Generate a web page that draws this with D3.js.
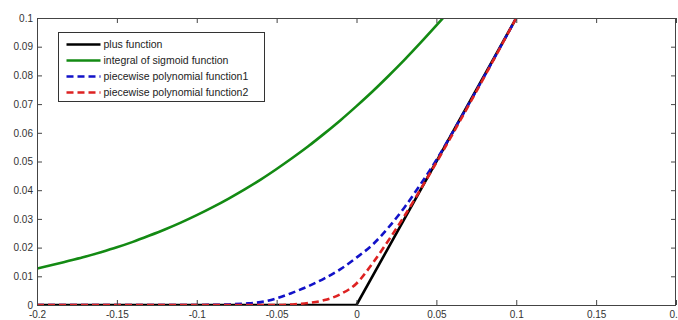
<!DOCTYPE html>
<html>
<head>
<meta charset="utf-8">
<script src="https://cdn.jsdelivr.net/npm/d3@7"></script>
<style>
  body { margin: 0; background: #fff; }
  svg { display: block; font-family: "Liberation Sans", Arial, sans-serif; }
</style>
</head>
<body>
<div id="chart"></div>
<script>
// values
const xTicks = [-0.2, -0.15, -0.1, -0.05, 0, 0.05, 0.1, 0.15, 0.2];
const yTicks = [0, 0.01, 0.02, 0.03, 0.04, 0.05, 0.06, 0.07, 0.08, 0.09, 0.1];

const plusX = [-0.2, 0, 0.1, 0.2];
const plusY = [0, 0, 0.1, 0.2];

const sigX = [-0.2, -0.19, -0.18, -0.17, -0.16, -0.15, -0.14, -0.13, -0.12, -0.11, -0.1, -0.09, -0.08, -0.07, -0.06, -0.05, -0.04, -0.03, -0.02, -0.01, 0, 0.01, 0.02, 0.03, 0.04, 0.05, 0.055];
const sigY = [0.0127, 0.014, 0.0154, 0.0168, 0.0184, 0.0201, 0.022, 0.0241, 0.0263, 0.0287, 0.0313, 0.0341, 0.0371, 0.0403, 0.0437, 0.0474, 0.0513, 0.0554, 0.0598, 0.0644, 0.0693, 0.0744, 0.0798, 0.0854, 0.0913, 0.0974, 0.1005];

const poly1X = [-0.2, -0.1, -0.08, -0.07, -0.06, -0.05, -0.04, -0.03, -0.02, -0.01, 0, 0.01, 0.02, 0.03, 0.04, 0.05, 0.06, 0.1];
const poly1Y = [0, 0, 0.0002, 0.0005, 0.001, 0.0023, 0.0043, 0.0066, 0.0093, 0.0125, 0.0165, 0.021, 0.027, 0.034, 0.042, 0.0505, 0.06, 0.1];

const poly2X = [-0.2, -0.05, -0.04, -0.03, -0.02, -0.01, 0, 0.01, 0.02, 0.03, 0.04, 0.1];
const poly2Y = [0, 0, 0.0002, 0.0007, 0.0017, 0.0038, 0.0075, 0.0145, 0.0225, 0.031, 0.0402, 0.1];

const names = ["plus function", "integral of sigmoid function", "piecewise polynomial function1", "piecewise polynomial function2"];
const colors = ["#000000", "#138a13", "#1212c8", "#dd2222"];
const dashed = [false, false, true, true];

const W = 678, H = 320;
const m = {left: 37, right: 2, top: 18, bottom: 15};

const svg = d3.select('#chart').append('svg').attr('width', W).attr('height', H);

const x = d3.scaleLinear().domain([-0.2, 0.2]).range([m.left, W - m.right]);
const y = d3.scaleLinear().domain([0, 0.1]).range([H - m.bottom, m.top]);

const fmt = d => String(+d.toFixed(2));

svg.append('clipPath').attr('id', 'clip')
  .append('rect')
  .attr('x', m.left).attr('y', m.top)
  .attr('width', W - m.left - m.right).attr('height', H - m.top - m.bottom);

// curves
const series = [[plusX, plusY], [sigX, sigY], [poly1X, poly1Y], [poly2X, poly2Y]];
const line = d3.line().x(d => x(d[0])).y(d => y(d[1])).curve(d3.curveMonotoneX);
const g = svg.append('g').attr('clip-path', 'url(#clip)');
series.forEach((s, i) => {
  const pts = s[0].map((v, k) => [v, s[1][k]]);
  g.append('path')
    .attr('d', (i === 0 ? d3.line().x(d => x(d[0])).y(d => y(d[1])) : line)(pts))
    .attr('fill', 'none')
    .attr('stroke', colors[i])
    .attr('stroke-width', 2.6)
    .attr('stroke-dasharray', dashed[i] ? '7,4' : null);
});

// axes, ticks pointing inward
const styleAxis = sel => {
  sel.select('.domain').remove();
  sel.selectAll('line').attr('stroke', '#444');
  sel.selectAll('text').attr('fill', '#333').style('font-size', '10px');
};
svg.append('g').attr('transform', `translate(0,${H - m.bottom})`)
  .call(d3.axisBottom(x).tickValues(xTicks).tickFormat(fmt).tickSize(-5).tickPadding(6))
  .call(styleAxis);
svg.append('g').attr('transform', `translate(0,${m.top})`)
  .call(d3.axisBottom(x).tickValues(xTicks).tickFormat('').tickSize(5))
  .call(styleAxis);
svg.append('g').attr('transform', `translate(${m.left},0)`)
  .call(d3.axisLeft(y).tickValues(yTicks).tickFormat(fmt).tickSize(-5).tickPadding(4))
  .call(styleAxis);
svg.append('g').attr('transform', `translate(${W - m.right},0)`)
  .call(d3.axisRight(y).tickValues(yTicks).tickFormat('').tickSize(-5))
  .call(styleAxis);

svg.append('rect')
  .attr('x', m.left + 0.5).attr('y', m.top + 0.5)
  .attr('width', W - m.left - m.right - 1).attr('height', H - m.top - m.bottom)
  .attr('fill', 'none').attr('stroke', '#444').attr('stroke-width', 1);

// legend
const lg = svg.append('g').attr('transform', 'translate(58.5,32.5)');
lg.append('rect').attr('width', 206).attr('height', 69)
  .attr('fill', '#fff').attr('stroke', '#333').attr('stroke-width', 1);
names.forEach((n, i) => {
  const yy = 12 + i * 16;
  lg.append('line')
    .attr('x1', 8).attr('x2', 42).attr('y1', yy).attr('y2', yy)
    .attr('stroke', colors[i]).attr('stroke-width', 2.6)
    .attr('stroke-dasharray', dashed[i] ? '7,4' : null);
  lg.append('text').attr('x', 45).attr('y', yy + 3.5)
    .text(n).attr('fill', '#222').style('font-size', '10.5px');
});
</script>
</body>
</html>
